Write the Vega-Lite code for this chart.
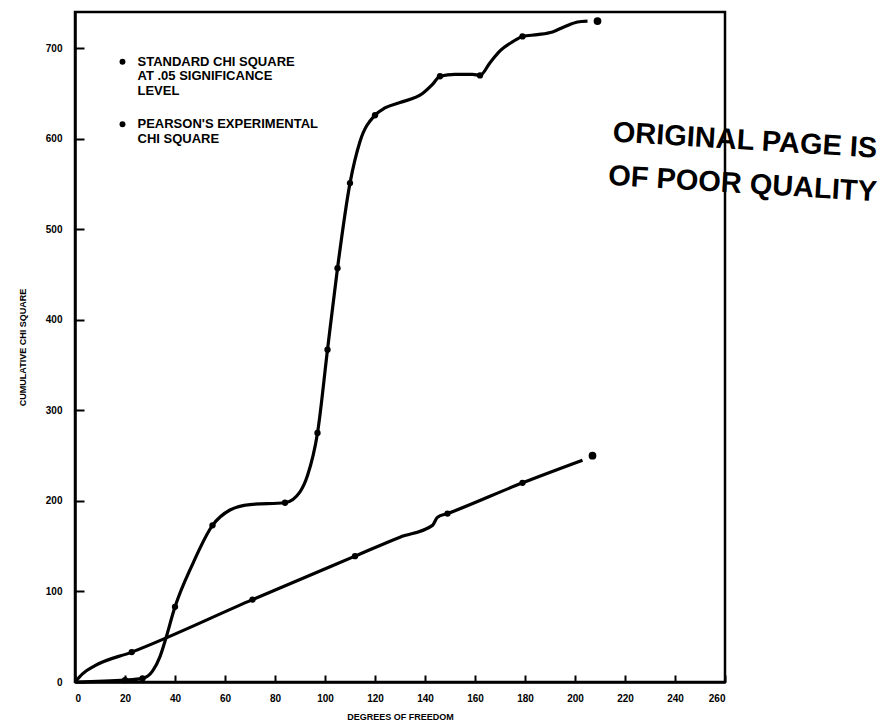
{
  "$schema": "https://vega.github.io/schema/vega-lite/v6.json",
  "width": 650,
  "height": 670,
  "autosize": "none",
  "padding": {"left": 75, "top": 12, "right": 158, "bottom": 42},
  "background": "white",
  "config": {
    "view": {"stroke": "black", "strokeWidth": 2.5},
    "font": "Liberation Sans",
    "axis": {
      "domainColor": "black", "domainWidth": 2.5, "tickColor": "black", "tickWidth": 2,
      "grid": false, "labelColor": "black", "labelFont": "Liberation Sans", "labelFontWeight": "bold",
      "labelFontSize": 10, "titleFont": "Liberation Sans", "titleFontWeight": "bold", "titleFontSize": 9,
      "titleColor": "black"
    }
  },
  "datasets": {
    "series": [
      {"s": "Pearson", "x": 0, "y": 0, "m": 0},
      {"s": "Pearson", "x": 20, "y": 2, "m": 1},
      {"s": "Pearson", "x": 27, "y": 4, "m": 1},
      {"s": "Pearson", "x": 31, "y": 12, "m": 0},
      {"s": "Pearson", "x": 34, "y": 28, "m": 0},
      {"s": "Pearson", "x": 36, "y": 45, "m": 0},
      {"s": "Pearson", "x": 40, "y": 83, "m": 1},
      {"s": "Pearson", "x": 47, "y": 130, "m": 0},
      {"s": "Pearson", "x": 55, "y": 173, "m": 1},
      {"s": "Pearson", "x": 62, "y": 190, "m": 0},
      {"s": "Pearson", "x": 70, "y": 196, "m": 0},
      {"s": "Pearson", "x": 84, "y": 198, "m": 1},
      {"s": "Pearson", "x": 90, "y": 210, "m": 0},
      {"s": "Pearson", "x": 93, "y": 228, "m": 0},
      {"s": "Pearson", "x": 97, "y": 275, "m": 1},
      {"s": "Pearson", "x": 101, "y": 367, "m": 1},
      {"s": "Pearson", "x": 105, "y": 457, "m": 1},
      {"s": "Pearson", "x": 110, "y": 551, "m": 1},
      {"s": "Pearson", "x": 114, "y": 597, "m": 0},
      {"s": "Pearson", "x": 120, "y": 626, "m": 1},
      {"s": "Pearson", "x": 124, "y": 634, "m": 0},
      {"s": "Pearson", "x": 130, "y": 640, "m": 0},
      {"s": "Pearson", "x": 139, "y": 650, "m": 0},
      {"s": "Pearson", "x": 143, "y": 660, "m": 0},
      {"s": "Pearson", "x": 146, "y": 669, "m": 1},
      {"s": "Pearson", "x": 152, "y": 671, "m": 0},
      {"s": "Pearson", "x": 159, "y": 671, "m": 0},
      {"s": "Pearson", "x": 162, "y": 670, "m": 1},
      {"s": "Pearson", "x": 166, "y": 684, "m": 0},
      {"s": "Pearson", "x": 170, "y": 697, "m": 0},
      {"s": "Pearson", "x": 175, "y": 707, "m": 0},
      {"s": "Pearson", "x": 179, "y": 713, "m": 1},
      {"s": "Pearson", "x": 185, "y": 715, "m": 0},
      {"s": "Pearson", "x": 191, "y": 718, "m": 0},
      {"s": "Pearson", "x": 196, "y": 724, "m": 0},
      {"s": "Pearson", "x": 201, "y": 729, "m": 0},
      {"s": "Pearson", "x": 205, "y": 730, "m": 0},
      {"s": "Pearson", "x": 209, "y": 730, "m": 2},
      {"s": "Standard", "x": 0, "y": 0, "m": 0},
      {"s": "Standard", "x": 3, "y": 9, "m": 0},
      {"s": "Standard", "x": 8, "y": 18, "m": 0},
      {"s": "Standard", "x": 22.7, "y": 33, "m": 1},
      {"s": "Standard", "x": 71, "y": 91, "m": 1},
      {"s": "Standard", "x": 112, "y": 139, "m": 1},
      {"s": "Standard", "x": 130, "y": 160, "m": 0},
      {"s": "Standard", "x": 143, "y": 173, "m": 0},
      {"s": "Standard", "x": 145, "y": 182, "m": 0},
      {"s": "Standard", "x": 149, "y": 186, "m": 1},
      {"s": "Standard", "x": 179, "y": 220, "m": 1},
      {"s": "Standard", "x": 203, "y": 245, "m": 0},
      {"s": "Standard", "x": 207, "y": 250, "m": 2}
    ],
    "legend": [
      {"x": 25, "y": 685, "label": "STANDARD CHI SQUARE", "b": 1},
      {"x": 25, "y": 669, "label": "AT .05 SIGNIFICANCE", "b": 0},
      {"x": 25, "y": 653, "label": "LEVEL", "b": 0},
      {"x": 25, "y": 616, "label": "PEARSON'S EXPERIMENTAL", "b": 1},
      {"x": 25, "y": 600, "label": "CHI SQUARE", "b": 0}
    ],
    "stamp": [
      {"x": 268, "y": 598, "label": "ORIGINAL PAGE IS"},
      {"x": 267, "y": 550, "label": "OF POOR QUALITY"}
    ]
  },
  "layer": [
    {
      "data": {"name": "series"},
      "transform": [{"filter": "datum.m != 2"}],
      "mark": {"type": "line", "interpolate": "monotone", "color": "black", "strokeWidth": 3.2},
      "encoding": {
        "x": {"field": "x", "type": "quantitative", "scale": {"domain": [0, 260], "nice": false},
          "axis": {"values": [0,20,40,60,80,100,120,140,160,180,200,220,240,260], "tickSize": -7, "labelPadding": 18, "title": "DEGREES OF FREEDOM", "titlePadding": 9}},
        "y": {"field": "y", "type": "quantitative", "scale": {"domain": [0, 740], "nice": false},
          "axis": {"values": [0,100,200,300,400,500,600,700], "tickSize": -9, "labelPadding": 22, "title": "CUMULATIVE CHI SQUARE", "titlePadding": 18}},
        "detail": {"field": "s"}
      }
    },
    {
      "data": {"name": "series"},
      "transform": [{"filter": "datum.m == 1"}],
      "mark": {"type": "point", "filled": true, "color": "black", "size": 40, "opacity": 1},
      "encoding": {
        "x": {"field": "x", "type": "quantitative"},
        "y": {"field": "y", "type": "quantitative"}
      }
    },
    {
      "data": {"name": "series"},
      "transform": [{"filter": "datum.m == 2"}],
      "mark": {"type": "point", "filled": true, "color": "black", "size": 60, "opacity": 1},
      "encoding": {
        "x": {"field": "x", "type": "quantitative"},
        "y": {"field": "y", "type": "quantitative"}
      }
    },
    {
      "data": {"name": "legend"},
      "transform": [{"filter": "datum.b == 1"}],
      "mark": {"type": "point", "filled": true, "color": "black", "size": 35, "opacity": 1, "xOffset": -15},
      "encoding": {
        "x": {"field": "x", "type": "quantitative"},
        "y": {"field": "y", "type": "quantitative"}
      }
    },
    {
      "data": {"name": "legend"},
      "mark": {"type": "text", "align": "left", "baseline": "middle", "font": "Liberation Sans", "fontWeight": "bold", "fontSize": 13, "color": "black"},
      "encoding": {
        "x": {"field": "x", "type": "quantitative"},
        "y": {"field": "y", "type": "quantitative"},
        "text": {"field": "label"}
      }
    },
    {
      "data": {"name": "stamp"},
      "mark": {"type": "text", "align": "center", "baseline": "middle", "font": "Liberation Sans", "fontWeight": "bold", "fontSize": 29, "color": "black", "angle": 3.5},
      "encoding": {
        "x": {"field": "x", "type": "quantitative"},
        "y": {"field": "y", "type": "quantitative"},
        "text": {"field": "label"}
      }
    }
  ]
}
